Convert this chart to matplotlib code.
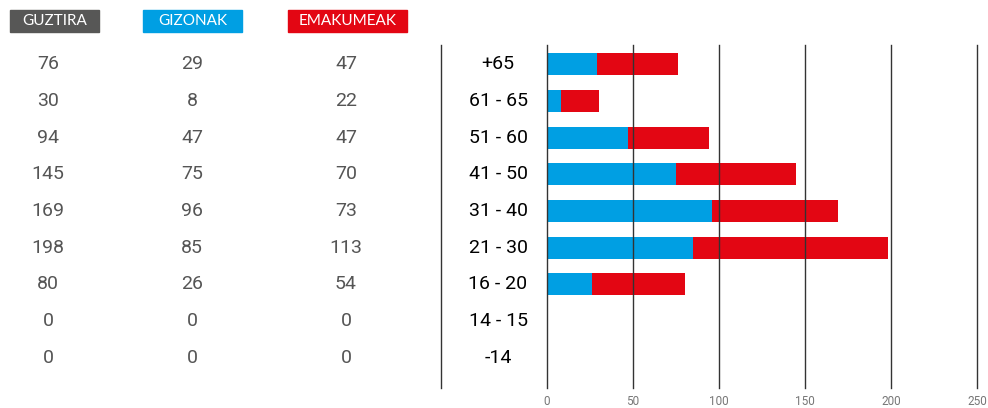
import matplotlib.pyplot as plt
from matplotlib.transforms import blended_transform_factory
from matplotlib.patches import Rectangle

# age groups, top to bottom
ages = ['+65', '61 - 65', '51 - 60', '41 - 50', '31 - 40', '21 - 30', '16 - 20', '14 - 15', '-14']
gizonak = [29, 8, 47, 75, 96, 85, 26, 0, 0]
emakumeak = [47, 22, 47, 70, 73, 113, 54, 0, 0]
guztira = [76, 30, 94, 145, 169, 198, 80, 0, 0]
xticks = [0, 50, 100, 150, 200, 250]

blue = '#009FE3'
red = '#E30613'
grey = '#575756'

W, H = 988, 408
fig = plt.figure(figsize=(W / 100, H / 100), dpi=100)

def fx(px):
    return px / W

def fy(py):
    return 1 - py / H

# bar axis: x from 547 to 977 px, y from 45 to 388 px
ax = fig.add_axes([fx(547), fy(388), fx(977) - fx(547), fy(45) - fy(388)])
pos = list(range(len(ages)))
ax.barh(pos, gizonak, height=0.6, color=blue, zorder=1)
ax.barh(pos, emakumeak, left=gizonak, height=0.6, color=red, zorder=1)
ax.set_xlim(0, 250)
ax.set_ylim(8.82, -0.52)
for t in xticks:
    ax.axvline(t, color='#333333', lw=1, zorder=3, clip_on=False)
for s in ax.spines.values():
    s.set_visible(False)
ax.set_yticks([])
ax.set_xticks(xticks)
ax.set_xticklabels([str(t) for t in xticks], fontfamily='Roboto', fontsize=8.5, color='#777777')
ax.tick_params(axis='x', length=0, pad=5)

# separator line left of age labels
fig.add_artist(plt.Line2D([fx(441), fx(441)], [fy(45), fy(388)], color='#333333', lw=1))

tr = blended_transform_factory(fig.transFigure, ax.transData)
for i in pos:
    ax.text(fx(48), i, str(guztira[i]), transform=tr, ha='center', va='center',
            fontfamily='Roboto', fontsize=14, color='#555555')
    ax.text(fx(192), i, str(gizonak[i]), transform=tr, ha='center', va='center',
            fontfamily='Roboto', fontsize=14, color='#555555')
    ax.text(fx(346), i, str(emakumeak[i]), transform=tr, ha='center', va='center',
            fontfamily='Roboto', fontsize=14, color='#555555')
    ax.text(fx(498), i, ages[i], transform=tr, ha='center', va='center',
            fontfamily='Roboto', fontsize=14, color='black', clip_on=False)

# header labels
headers = [('GUZTIRA', 10, 99, grey), ('GIZONAK', 143, 242, blue), ('EMAKUMEAK', 288, 407, red)]
for label, x0, x1, c in headers:
    fig.add_artist(Rectangle((fx(x0), fy(32)), fx(x1) - fx(x0), fy(10) - fy(32),
                             transform=fig.transFigure, color=c))
    fig.text((fx(x0) + fx(x1)) / 2, (fy(10) + fy(32)) / 2, label, ha='center', va='center',
             fontfamily='Lato', fontsize=11, color='white')

fig.savefig('out.png', dpi=100)
